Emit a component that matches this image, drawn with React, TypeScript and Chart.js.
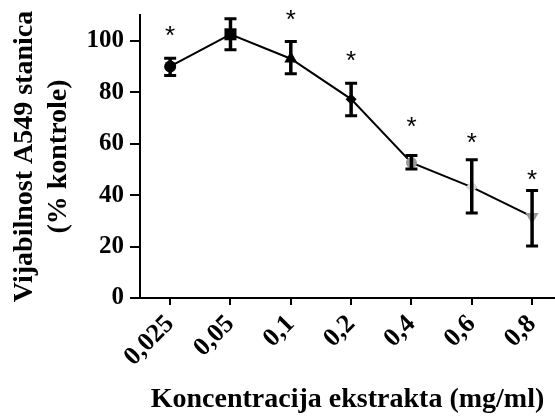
import React, { useEffect, useRef } from "react";
import { Chart, registerables } from "chart.js";

Chart.register(...registerables);

// ---- data ----
const categories = ["0,025", "0,05", "0,1", "0,2", "0,4", "0,6", "0,8"];
const viability = [90, 102.5, 93, 77.3, 52.6, 43.1, 31.6];
const errLow = [86.5, 96.5, 87.2, 70.8, 50.1, 33, 20.2];
const errHigh = [93.2, 108.5, 99.7, 83.5, 55.4, 53.7, 41.8];
const significant = [true, false, true, true, true, true, true];
const starLevels = [103.5, 0, 109.7, 93.8, 67.9, 61.7, 47.5];
const yTickValues = [0, 20, 40, 60, 80, 100];
const yTitle = ["Vijabilnost A549 stanica", "(% kontrole)"];
const xTitle = "Koncentracija ekstrakta (mg/ml)";

const SERIF = "'Liberation Serif', 'Times New Roman', serif";

export default function App() {
  const ref = useRef<HTMLCanvasElement | null>(null);

  useEffect(() => {
    if (!ref.current) return;
    const markerStyles = ["circle", "rect", "triangle", "rectRot", "circle", "rectRot", "triangle"];
    const markerColors = ["#000", "#000", "#000", "#000", "#9a9a9a", "#d8d8d8", "#9a9a9a"];
    const markerRotations = [0, 0, 0, 0, 0, 0, 180];
    const markerRadii = [6, 8.5, 7.5, 5.5, 5.5, 6, 7.5];

    const errorBarPlugin = {
      id: "errorBars",
      afterDatasetsDraw(chart: any) {
        const { ctx } = chart;
        const x = chart.scales.x;
        const y = chart.scales.y;
        ctx.save();
        ctx.strokeStyle = "#000";
        ctx.lineCap = "butt";
        categories.forEach((_, i) => {
          const px = x.getPixelForValue(i);
          const top = y.getPixelForValue(errHigh[i]);
          const bot = y.getPixelForValue(errLow[i]);
          ctx.lineWidth = 3.5;
          ctx.beginPath();
          ctx.moveTo(px, top);
          ctx.lineTo(px, bot);
          ctx.stroke();
          ctx.lineWidth = 3;
          ctx.beginPath();
          ctx.moveTo(px - 6, top);
          ctx.lineTo(px + 6, top);
          ctx.moveTo(px - 6, bot);
          ctx.lineTo(px + 6, bot);
          ctx.stroke();
          if (significant[i]) {
            ctx.fillStyle = "#000";
            ctx.font = "26px 'Liberation Sans', Arial, sans-serif";
            ctx.textAlign = "center";
            ctx.textBaseline = "middle";
            ctx.fillText("*", px, y.getPixelForValue(starLevels[i]) + 5);
          }
        });
        ctx.restore();
      },
    };

    const chart = new Chart(ref.current, {
      type: "line",
      data: {
        datasets: [
          {
            data: viability.map((v, i) => ({ x: i, y: v })),
            borderColor: "#000",
            borderWidth: 2,
            pointStyle: markerStyles as any,
            pointRadius: markerRadii,
            pointRotation: markerRotations,
            pointBackgroundColor: markerColors,
            pointBorderColor: markerColors,
            pointBorderWidth: 0,
            tension: 0,
            clip: false as any,
          },
        ],
      },
      options: {
        responsive: false,
        animation: false,
        layout: { autoPadding: false, padding: { top: 15, left: 0, right: 0, bottom: 0 } },
        plugins: { legend: { display: false }, tooltip: { enabled: false } },
        scales: {
          x: {
            type: "linear",
            min: -0.5,
            max: 6.38,
            afterBuildTicks: (scale: any) => {
              scale.ticks = categories.map((_, i) => ({ value: i }));
            },
            afterFit: (scale: any) => {
              scale.height = 122;
              scale.paddingLeft = 0;
              scale.paddingRight = 0;
            },
            grid: { drawOnChartArea: false, drawTicks: true, tickLength: 7, color: "#000", lineWidth: 2 },
            border: { display: true, color: "#000", width: 2 },
            ticks: {
              autoSkip: false,
              minRotation: 45,
              maxRotation: 45,
              padding: 4,
              color: "#000",
              font: { family: SERIF, size: 26, weight: "bold" },
              callback: (v: any) => categories[Math.round(Number(v))] ?? "",
            },
            title: {
              display: true,
              text: xTitle,
              color: "#000",
              font: { family: SERIF, size: 28, weight: "bold", lineHeight: 1.2 },
              padding: { top: 0, bottom: 3 },
            },
          },
          y: {
            min: 0,
            max: 110,
            afterBuildTicks: (scale: any) => {
              scale.ticks = yTickValues.map((v) => ({ value: v }));
            },
            afterFit: (scale: any) => {
              scale.width = 140;
              scale.paddingTop = 0;
              scale.paddingBottom = 0;
            },
            grid: { drawOnChartArea: false, drawTicks: true, tickLength: 10, color: "#000", lineWidth: 2 },
            border: { display: true, color: "#000", width: 2 },
            ticks: {
              padding: 6,
              color: "#000",
              font: { family: SERIF, size: 25, weight: "bold" },
            },
            title: {
              display: true,
              text: yTitle,
              color: "#000",
              font: { family: SERIF, size: 28, weight: "bold", lineHeight: 1.2 },
              padding: { top: 8, bottom: 0 },
            },
          },
        },
      },
      plugins: [errorBarPlugin],
    });
    return () => chart.destroy();
  }, []);

  return (
    <div style={{ position: "fixed", left: 0, top: 0, width: 555, height: 420, background: "#fff" }}>
      <canvas ref={ref} width={555} height={420} style={{ display: "block" }} />
    </div>
  );
}
